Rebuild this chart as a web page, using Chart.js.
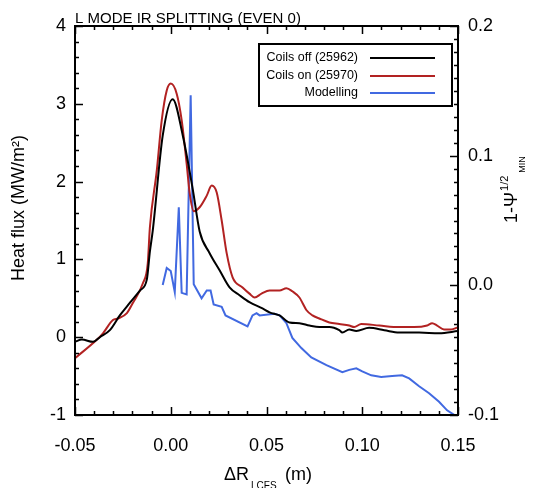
<!DOCTYPE html>
<html>
<head>
<meta charset="utf-8">
<script src="https://cdn.jsdelivr.net/npm/chart.js@4.4.1/dist/chart.umd.min.js"></script>
<style>
  html, body { margin: 0; padding: 0; background: #fff; }
  #wrap { width: 533px; height: 488px; }
</style>
</head>
<body>
<div id="wrap"><canvas id="chart" width="533" height="488"></canvas></div>
<script>
// Coils off (25962)
const offX = [-0.05, -0.0464, -0.0406, -0.037, -0.0318, -0.0266, -0.0214, -0.0161, -0.0125, -0.0109, -0.0094, -0.0042, 0.001, 0.0063, 0.0115, 0.0151, 0.0203, 0.0255, 0.0307, 0.0359, 0.0411, 0.0479, 0.0516, 0.0568, 0.062, 0.0672, 0.0724, 0.0776, 0.0828, 0.088, 0.0896, 0.0932, 0.0969, 0.1036, 0.1115, 0.1193, 0.1297, 0.1401, 0.15];
const offY = [-0.06, -0.03, -0.06, 0.0, 0.09, 0.28, 0.44, 0.60, 0.74, 1.1, 1.37, 2.59, 3.06, 2.59, 1.9, 1.36, 1.08, 0.86, 0.64, 0.54, 0.45, 0.37, 0.32, 0.28, 0.19, 0.18, 0.15, 0.13, 0.13, 0.09, 0.06, 0.10, 0.08, 0.12, 0.09, 0.06, 0.06, 0.05, 0.08];

// Coils on (25970)
const onX = [-0.05, -0.0385, -0.0354, -0.0302, -0.0276, -0.0229, -0.0198, -0.0146, -0.012, -0.0109, -0.0073, -0.0047, -0.0021, 0.0, 0.0031, 0.0057, 0.0083, 0.0099, 0.012, 0.0151, 0.0188, 0.0214, 0.024, 0.0266, 0.0292, 0.0323, 0.0375, 0.0411, 0.0438, 0.0474, 0.0516, 0.0568, 0.0604, 0.0635, 0.0672, 0.0688, 0.0708, 0.074, 0.0776, 0.0828, 0.088, 0.0932, 0.0958, 0.0995, 0.1089, 0.1193, 0.1271, 0.1339, 0.1365, 0.1391, 0.1427, 0.1464, 0.15];
const onY = [-0.27, -0.03, 0.05, 0.22, 0.24, 0.31, 0.44, 0.69, 0.95, 1.41, 2.14, 2.79, 3.17, 3.26, 3.13, 2.79, 2.23, 1.85, 1.62, 1.67, 1.82, 1.95, 1.86, 1.5, 1.08, 0.77, 0.64, 0.56, 0.51, 0.56, 0.60, 0.60, 0.63, 0.59, 0.51, 0.44, 0.35, 0.28, 0.24, 0.19, 0.17, 0.15, 0.13, 0.17, 0.15, 0.13, 0.13, 0.15, 0.18, 0.15, 0.10, 0.10, 0.13];

// Modelling
const modX = [-0.0042, -0.0021, 0.0, 0.0021, 0.0042, 0.0057, 0.0083, 0.0104, 0.012, 0.0161, 0.0188, 0.0208, 0.0224, 0.0266, 0.0286, 0.0401, 0.0427, 0.0448, 0.0464, 0.0542, 0.0568, 0.0604, 0.0635, 0.0682, 0.0734, 0.0813, 0.0896, 0.0932, 0.0969, 0.1, 0.1047, 0.1099, 0.1156, 0.1208, 0.1245, 0.1297, 0.1349, 0.1401, 0.1443, 0.15];
const modY = [0.67, 0.89, 0.85, 0.58, 1.67, 0.57, 0.55, 3.11, 0.68, 0.50, 0.60, 0.60, 0.42, 0.39, 0.28, 0.14, 0.28, 0.31, 0.28, 0.30, 0.28, 0.18, -0.01, -0.14, -0.26, -0.36, -0.45, -0.42, -0.40, -0.44, -0.49, -0.51, -0.50, -0.49, -0.53, -0.63, -0.72, -0.83, -0.94, -1.03];

const seriesNames = ['Coils off (25962)', 'Coils on (25970)', 'Modelling'];
const seriesColors = ['#000000', '#b22222', '#4169e1'];

const xTicks = [-0.05, 0.00, 0.05, 0.10, 0.15];
const yTicks = [-1, 0, 1, 2, 3, 4];
const y2Ticks = [-0.1, 0.0, 0.1, 0.2];

const FONT = '"Liberation Sans", Arial, Helvetica, sans-serif';

const zip = (xs, ys) => xs.map((x, i) => ({ x: x, y: ys[i] }));

// draws inward ticks, frame, titles and the boxed legend
const idlFrame = {
    id: 'idlFrame',
    afterDraw(chart) {
        const ctx = chart.ctx;
        const a = chart.chartArea;
        const sx = chart.scales.x, sy = chart.scales.y, sy2 = chart.scales.y2;
        ctx.save();
        ctx.strokeStyle = '#000';
        ctx.lineWidth = 1.5;

        // x ticks every 0.01, top and bottom
        for (let i = 0; i <= 20; i++) {
            const v = -0.05 + i * 0.01;
            const px = Math.round(sx.getPixelForValue(v)) + 0.5;
            const len = i % 5 === 0 ? 8 : 4;
            ctx.beginPath();
            ctx.moveTo(px, a.bottom); ctx.lineTo(px, a.bottom - len);
            ctx.moveTo(px, a.top); ctx.lineTo(px, a.top + len);
            ctx.stroke();
        }
        // left ticks every 0.2
        for (let i = 0; i <= 25; i++) {
            const v = -1 + i * 0.2;
            const py = Math.round(sy.getPixelForValue(v)) + 0.5;
            const len = i % 5 === 0 ? 8 : 4;
            ctx.beginPath();
            ctx.moveTo(a.left, py); ctx.lineTo(a.left + len, py);
            ctx.stroke();
        }
        // right ticks every 0.01
        for (let i = 0; i <= 30; i++) {
            const v = -0.1 + i * 0.01;
            const py = Math.round(sy2.getPixelForValue(v)) + 0.5;
            const len = i % 10 === 0 ? 8 : 4;
            ctx.beginPath();
            ctx.moveTo(a.right, py); ctx.lineTo(a.right - len, py);
            ctx.stroke();
        }

        // frame
        ctx.lineWidth = 2;
        ctx.strokeRect(a.left, a.top, a.right - a.left, a.bottom - a.top);

        ctx.fillStyle = '#000';

        // title
        ctx.font = '15px ' + FONT;
        ctx.textAlign = 'left';
        ctx.textBaseline = 'alphabetic';
        ctx.fillText('L MODE IR SPLITTING (EVEN 0)', 75, 23);

        // x title
        ctx.font = '18px ' + FONT;
        ctx.fillText('\u0394R', 224, 480);
        const w = ctx.measureText('\u0394R').width;
        ctx.font = '10px ' + FONT;
        ctx.fillText('LCFS', 224 + w + 2, 489);
        ctx.font = '18px ' + FONT;
        ctx.fillText('(m)', 285, 480);

        // left title
        ctx.save();
        ctx.translate(24, 208);
        ctx.rotate(-Math.PI / 2);
        ctx.font = '18px ' + FONT;
        ctx.textAlign = 'center';
        ctx.fillText('Heat flux (MW/m\u00b2)', 0, 0);
        ctx.restore();

        // right title
        ctx.save();
        ctx.translate(517, 223);
        ctx.rotate(-Math.PI / 2);
        ctx.textAlign = 'left';
        ctx.font = '18px ' + FONT;
        ctx.fillText('1-\u03a8', 0, 0);
        const wp = ctx.measureText('1-\u03a8').width;
        ctx.font = '11px ' + FONT;
        ctx.fillText('1/2', wp + 1, -9);
        const w3 = ctx.measureText('1/2').width;
        ctx.font = '9px ' + FONT;
        ctx.fillText('MIN', wp + w3 + 4, 8);
        ctx.restore();

        // legend
        ctx.lineWidth = 2;
        ctx.strokeRect(259, 44, 193, 62);
        ctx.font = '12.5px ' + FONT;
        ctx.textAlign = 'right';
        ctx.textBaseline = 'middle';
        const rows = [58, 76, 93];
        seriesNames.forEach((name, i) => {
            ctx.fillStyle = '#000';
            ctx.fillText(name, 358, rows[i]);
            ctx.strokeStyle = seriesColors[i];
            ctx.beginPath();
            ctx.moveTo(370, rows[i]); ctx.lineTo(435, rows[i]);
            ctx.stroke();
        });
        ctx.restore();
    }
};

const ctx = document.getElementById('chart').getContext('2d');
new Chart(ctx, {
    type: 'line',
    data: {
        datasets: [
            { label: seriesNames[0], data: zip(offX, offY), borderColor: seriesColors[0], borderWidth: 2, pointRadius: 0, cubicInterpolationMode: 'monotone', fill: false },
            { label: seriesNames[1], data: zip(onX, onY), borderColor: seriesColors[1], borderWidth: 2, pointRadius: 0, cubicInterpolationMode: 'monotone', fill: false },
            { label: seriesNames[2], data: zip(modX, modY), borderColor: seriesColors[2], borderWidth: 2, pointRadius: 0, tension: 0, fill: false }
        ]
    },
    options: {
        responsive: false,
        animation: false,
        clip: true,
        layout: { padding: { top: 26, left: 0, right: 0, bottom: 0 } },
        plugins: { legend: { display: false }, tooltip: { enabled: false } },
        scales: {
            x: {
                type: 'linear', min: -0.05, max: 0.15,
                afterBuildTicks: s => { s.ticks = xTicks.map(v => ({ value: v })); },
                afterFit: s => { s.height = 73; },
                grid: { display: false, drawTicks: false },
                border: { display: false },
                ticks: { padding: 20, color: '#000', font: { family: FONT, size: 18 }, callback: v => v.toFixed(2) }
            },
            y: {
                type: 'linear', position: 'left', min: -1, max: 4,
                afterBuildTicks: s => { s.ticks = yTicks.map(v => ({ value: v })); },
                afterFit: s => { s.width = 75; },
                grid: { display: false, drawTicks: false },
                border: { display: false },
                ticks: { padding: 9, color: '#000', font: { family: FONT, size: 18 }, callback: v => String(v) }
            },
            y2: {
                type: 'linear', position: 'right', min: -0.1, max: 0.2, display: true,
                afterBuildTicks: s => { s.ticks = y2Ticks.map(v => ({ value: v })); },
                afterFit: s => { s.width = 75; },
                grid: { display: false, drawTicks: false },
                border: { display: false },
                ticks: { padding: 10, color: '#000', font: { family: FONT, size: 18 }, callback: v => v.toFixed(1) }
            }
        }
    },
    plugins: [idlFrame]
});
</script>
</body>
</html>
